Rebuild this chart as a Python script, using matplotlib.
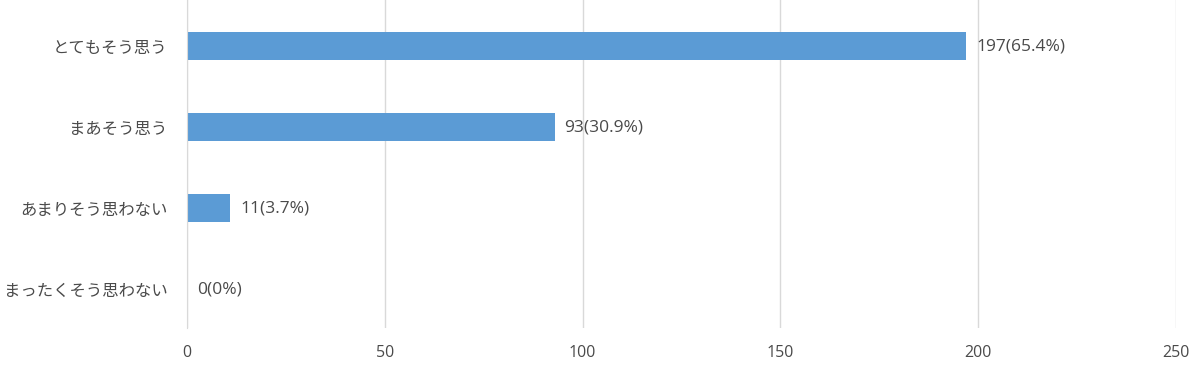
import matplotlib
matplotlib.use("Agg")
import matplotlib.pyplot as plt

plt.rcParams['font.family'] = ['Noto Sans CJK JP', 'DejaVu Sans']

categories = ["とてもそう思う", "まあそう思う", "あまりそう思わない", "まったくそう思わない"]
counts = [197, 93, 11, 0]
labels = ["197(65.4%)", "93(30.9%)", "11(3.7%)", "0(0%)"]
xticks = [0, 50, 100, 150, 200, 250]

TEXT = "#4a4a4a"
NUMFONT = ["Open Sans", "DejaVu Sans"]
fig = plt.figure(figsize=(12, 3.69), dpi=100)
ax = fig.add_axes([0.1558, 0.111, 0.8242, 0.889])

y = list(range(len(categories)))
ax.barh(y, counts, height=0.34, color="#5b9bd5", zorder=3)
for yi, c, lab in zip(y, counts, labels):
    ax.annotate(lab, (c, yi), xytext=(7, 0), textcoords="offset points",
                va="center", ha="left", fontsize=12.5, color=TEXT, family=NUMFONT)

ax.set_xlim(0, 250)
ax.set_ylim(3.48, -0.568)
ax.set_xticks(xticks)
ax.set_xticklabels([str(v) for v in xticks], family=NUMFONT)
ax.set_yticks(y)
ax.set_yticklabels(categories, fontsize=11.8, color=TEXT)
ax.tick_params(axis="x", labelsize=11.5, colors=TEXT, length=0, pad=12)
ax.tick_params(axis="y", length=0, pad=14)
ax.grid(axis="x", color="#d9d9d9", linewidth=1, zorder=0)
for s in ["top", "right", "bottom"]:
    ax.spines[s].set_visible(False)
ax.spines["left"].set_color("#d9d9d9")
ax.spines["left"].set_zorder(4)

fig.savefig("out.png", dpi=100)
